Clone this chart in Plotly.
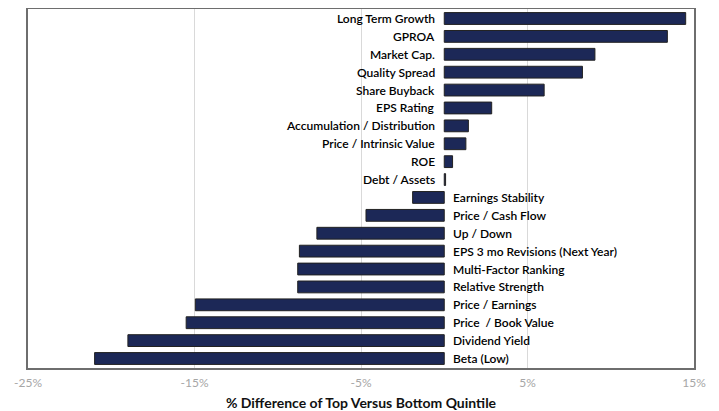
import plotly.graph_objects as go

categories = [
    "Long Term Growth", "GPROA", "Market Cap.", "Quality Spread", "Share Buyback",
    "EPS Rating", "Accumulation / Distribution", "Price / Intrinsic Value", "ROE",
    "Debt / Assets", "Earnings Stability", "Price / Cash Flow", "Up / Down",
    "EPS 3 mo Revisions (Next Year)", "Multi-Factor Ranking", "Relative Strength",
    "Price / Earnings", "Price  / Book Value", "Dividend Yield", "Beta (Low)",
]
values = [14.5, 13.4, 9.05, 8.3, 6.0, 2.85, 1.45, 1.3, 0.5, 0.08, -1.9, -4.7,
          -7.65, -8.7, -8.8, -8.8, -14.95, -15.5, -19.0, -21.0]
tick_vals = [-25, -15, -5, 5, 15]
tick_text = ["-25%", "-15%", "-5%", "5%", "15%"]

fig = go.Figure()
fig.add_trace(go.Bar(
    x=values, y=categories, orientation="h",
    marker=dict(color="#1c2857", line=dict(color="#222222", width=1)),
    width=0.66,
))

for c, v in zip(categories, values):
    fig.add_annotation(
        x=0, y=c, xref="x", yref="y", text=c, showarrow=False,
        xanchor="right" if v >= 0 else "left",
        xshift=-7 if v >= 0 else 7,
        font=dict(family="Lato", size=12, color="#000000", weight=600),
    )

# page body has an 8px margin: figure sized to fit the 719x411 window
fig.update_layout(
    width=711, height=403,
    margin=dict(l=19.5, r=24.5, t=1, b=43, autoexpand=False),
    plot_bgcolor="white", paper_bgcolor="white",
    showlegend=False,
    xaxis=dict(
        range=[-25, 15], tickvals=tick_vals, ticktext=tick_text,
        showgrid=True, gridcolor="#d9d9d9", gridwidth=1, zeroline=False,
        showline=True, linecolor="#6e6e6e", linewidth=1.5, mirror=True,
        tickfont=dict(family="Lato", size=12, color="#a6a6a6"),
        ticks="", ticklen=0, automargin=False, ticklabelstandoff=3,
        title=dict(text="<b>% Difference of Top Versus Bottom Quintile</b>",
                   font=dict(family="Lato", size=14, color="#111111"), standoff=14),
    ),
    yaxis=dict(
        categoryorder="array", categoryarray=categories,
        autorange="reversed", range=[19.5, -0.5], automargin=False,
        showticklabels=False, showgrid=False, zeroline=False,
        showline=True, linecolor="#6e6e6e", linewidth=1.5, mirror=True,
    ),
)

fig.write_html("out.html")
